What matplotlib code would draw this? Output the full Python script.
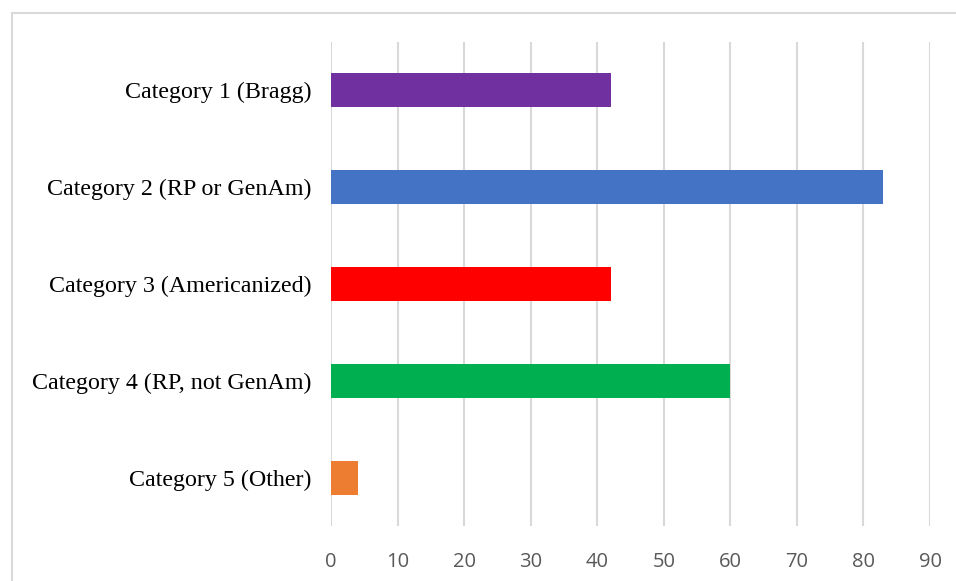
import matplotlib
matplotlib.use("Agg")
import matplotlib.pyplot as plt
from matplotlib.patches import Rectangle

categories = ["Category 1 (Bragg)", "Category 2 (RP or GenAm)", "Category 3 (Americanized)",
              "Category 4 (RP, not GenAm)", "Category 5 (Other)"]
values = [42, 83, 42, 60, 4]
colors = ["#7030A0", "#4472C4", "#FF0000", "#00B050", "#ED7D31"]
xticks = list(range(0, 91, 10))

fig = plt.figure(figsize=(9.56, 5.81), dpi=100)
fig.patches.append(Rectangle((12/956, -0.1), 1.2, 1 - 13/581 + 0.1, transform=fig.transFigure,
                             fill=False, edgecolor="#d9d9d9", linewidth=1.5))
ax = fig.add_axes([331/956, 1 - 526/581, (930 - 331)/956, (526 - 42)/581])
ypos = list(range(len(categories)))
ax.barh(ypos, values, height=0.35, color=colors, zorder=3)
ax.set_ylim(len(categories) - 0.5, -0.5)
ax.set_xlim(0, 90)
ax.set_xticks(xticks)
ax.set_xticklabels([str(t) for t in xticks], fontfamily="Open Sans", fontsize=14.5, color="#595959")
ax.set_yticks(ypos)
ax.set_yticklabels(categories, fontfamily="Liberation Serif", fontsize=17.3, color="black")
ax.tick_params(axis="x", length=0, pad=19)
ax.tick_params(axis="y", length=0, pad=14)
ax.grid(axis="x", color="#d9d9d9", linewidth=1.5, zorder=0)
for s in ax.spines.values():
    s.set_visible(False)
fig.savefig("out.png", dpi=100)
